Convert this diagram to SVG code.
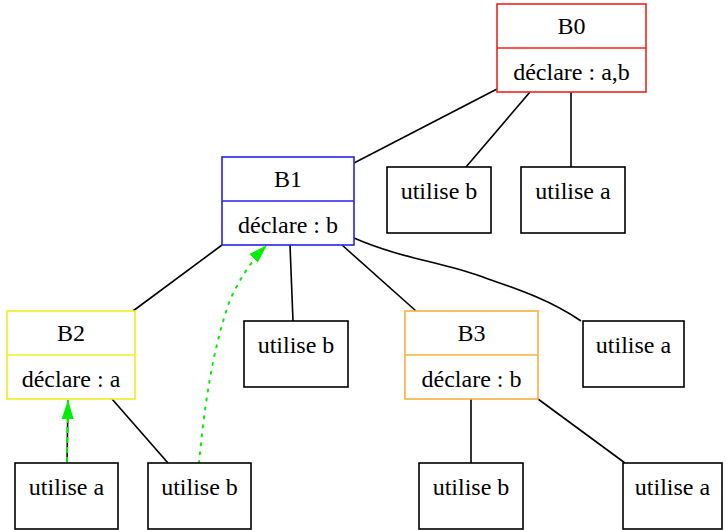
<svg xmlns="http://www.w3.org/2000/svg" width="727" height="530" viewBox="0 0 727 530">
<style>
text{font-family:"Liberation Serif","Times New Roman",serif;font-size:24px;text-anchor:middle;fill:#000}
.box{fill:#fff;stroke-width:1.6}
.u{fill:#fff;stroke:#000;stroke-width:1.6}
.e{fill:none;stroke:#000;stroke-width:1.6}
.g{fill:none;stroke:#00ee00;stroke-width:2}
</style>
<defs>
<marker id="ah2" viewBox="0 0 10 10" refX="10" refY="5" markerWidth="19" markerHeight="12" orient="auto" markerUnits="userSpaceOnUse" preserveAspectRatio="none">
<path d="M0,0 L10,5 L0,10 z" fill="#00ee00"/>
</marker>
</defs>
<rect width="727" height="530" fill="#fff"/>
<g id="connectors">
<line class="e" x1="497" y1="89" x2="354" y2="163"/>
<line class="e" x1="530" y1="92" x2="466" y2="167"/>
<line class="e" x1="571" y1="92" x2="571" y2="167"/>
<line class="e" x1="222" y1="245" x2="133" y2="311"/>
<line class="e" x1="290" y1="245" x2="293" y2="321"/>
<line class="e" x1="342" y1="245" x2="416" y2="311"/>
<path class="e" d="M354,238 C400,258 440,262 480,276 C520,290 550,300 581,321"/>
<line class="e" x1="112" y1="399" x2="168" y2="463"/>
<line class="e" x1="471" y1="399" x2="471" y2="463"/>
<line class="e" x1="538" y1="399" x2="625" y2="463"/>
<line class="e" x1="67" y1="463" x2="68" y2="400"/>
<line class="g" x1="67" y1="463" x2="68" y2="400" stroke-dasharray="6,4" marker-end="url(#ah2)"/>
<path class="g" d="M199,463 C204,410 212,350 230,300 C240,278 252,260 267,245" stroke-dasharray="2,7" stroke-linecap="round" marker-end="url(#ah2)"/>
</g>
<g id="B0">
<rect class="box" x="497" y="4" width="149" height="88" stroke="#ee2222"/>
<line x1="497" y1="48" x2="646" y2="48" stroke="#ee2222" stroke-width="1.6"/>
<text x="571.5" y="34">B0</text>
<text x="571.5" y="80">déclare : a,b</text>
</g>
<g id="B1">
<rect class="box" x="222" y="157" width="132" height="88" stroke="#2222ee"/>
<line x1="222" y1="201" x2="354" y2="201" stroke="#2222ee" stroke-width="1.6"/>
<text x="288" y="187">B1</text>
<text x="288" y="233">déclare : b</text>
</g>
<g id="B2">
<rect class="box" x="7" y="311" width="128" height="88" stroke="#eeee22"/>
<line x1="7" y1="355" x2="135" y2="355" stroke="#eeee22" stroke-width="1.6"/>
<text x="71" y="341">B2</text>
<text x="71" y="387">déclare : a</text>
</g>
<g id="B3">
<rect class="box" x="405" y="311" width="133" height="88" stroke="#f5b041"/>
<line x1="405" y1="355" x2="538" y2="355" stroke="#f5b041" stroke-width="1.6"/>
<text x="471.5" y="341">B3</text>
<text x="471.5" y="387">déclare : b</text>
</g>
<g id="U0b"><rect class="u" x="387" y="167" width="104" height="66"/><text x="439" y="199">utilise b</text></g>
<g id="U0a"><rect class="u" x="521" y="167" width="104" height="66"/><text x="573" y="199">utilise a</text></g>
<g id="U1b"><rect class="u" x="244" y="321" width="104" height="66"/><text x="296" y="353">utilise b</text></g>
<g id="U1a"><rect class="u" x="583" y="321" width="101" height="66"/><text x="633.5" y="353">utilise a</text></g>
<g id="U2a"><rect class="u" x="15" y="463" width="103" height="66"/><text x="66.5" y="495">utilise a</text></g>
<g id="U2b"><rect class="u" x="148" y="463" width="103" height="66"/><text x="199.5" y="495">utilise b</text></g>
<g id="U3b"><rect class="u" x="419" y="463" width="104" height="66"/><text x="471" y="495">utilise b</text></g>
<g id="U3a"><rect class="u" x="623" y="463" width="99" height="66"/><text x="672.5" y="495">utilise a</text></g>
</svg>
